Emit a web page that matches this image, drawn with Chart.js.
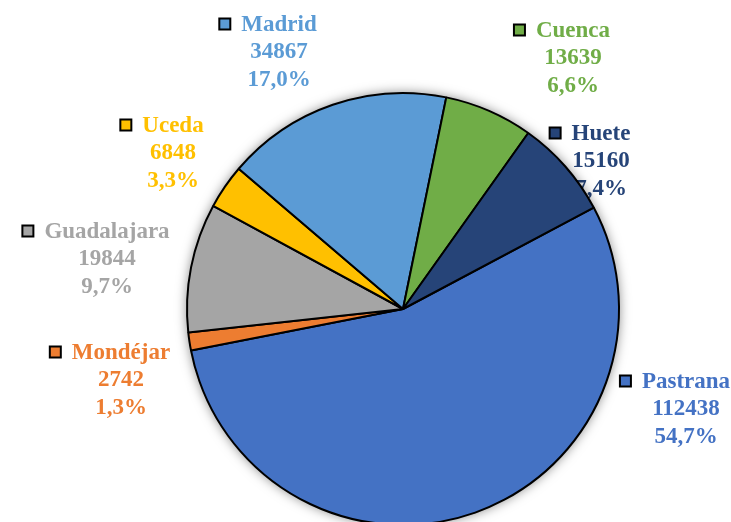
<!DOCTYPE html>
<html>
<head>
<meta charset="utf-8">
<script src="https://cdn.jsdelivr.net/npm/chart.js@4.4.1/dist/chart.umd.min.js"></script>
<style>
html,body{margin:0;padding:0;background:#fff;overflow:hidden;width:731px;height:522px;}
canvas{display:block;}
</style>
</head>
<body>
<canvas id="c" width="731" height="618"></canvas>
<script>
// ---- data ----
const categories = ['Pastrana', 'Mondéjar', 'Guadalajara', 'Uceda', 'Madrid', 'Cuenca', 'Huete'];
const values = [112438, 2742, 19844, 6848, 34867, 13639, 15160];
const colors = ['#4472C4', '#ED7D31', '#A5A5A5', '#FFC000', '#5B9BD5', '#70AD47', '#264478'];
// label block anchor offsets from pie centre (layout only)
const labelOffsets = [[283, 72], [-282, 43], [-296, -78], [-230, -184], [-124, -285], [170, -279], [198, -176]];

const total = values.reduce((a, b) => a + b, 0);
const pct = v => (v / total * 100).toFixed(1).replace('.', ',') + '%';

const labelPlugin = {
  id: 'outerLabels',
  beforeDatasetsDraw(chart) {
    const ctx = chart.ctx;
    const arc0 = chart.getDatasetMeta(0).data[0];
    const cx = arc0.x, cy = arc0.y, r = arc0.outerRadius;
    ctx.save();
    // labels (drawn beneath the pie)
    ctx.font = "bold 23px 'Liberation Serif', 'Times New Roman', serif";
    ctx.textAlign = 'center';
    ctx.textBaseline = 'middle';
    const lh = 27.5;
    categories.forEach((name, i) => {
      const x = cx + labelOffsets[i][0];
      const y = cy + labelOffsets[i][1];
      ctx.fillStyle = colors[i];
      ctx.fillText(name, x, y + 1);
      ctx.fillText(String(values[i]), x, y + 1 + lh);
      ctx.fillText(pct(values[i]), x, y + 1 + 2 * lh);
      const w = ctx.measureText(name).width;
      const s = 11;
      const mx = x - w / 2 - 11 - s;
      ctx.fillStyle = colors[i];
      ctx.fillRect(mx, y - s / 2, s, s);
      ctx.lineWidth = 2;
      ctx.strokeStyle = '#000';
      ctx.strokeRect(mx, y - s / 2, s, s);
    });
    // soft shadow behind the pie
    ctx.shadowColor = 'rgba(0,0,0,0.5)';
    ctx.shadowBlur = 12;
    ctx.beginPath();
    ctx.arc(cx, cy, r, 0, Math.PI * 2);
    ctx.fillStyle = '#fff';
    ctx.fill();
    ctx.restore();
  }
};

new Chart(document.getElementById('c'), {
  type: 'pie',
  data: {
    labels: categories,
    datasets: [{
      data: values,
      backgroundColor: colors,
      borderColor: '#000',
      borderWidth: 2,
      borderAlign: 'center',
      hoverOffset: 0,
      radius: 216
    }]
  },
  options: {
    responsive: false,
    devicePixelRatio: 1,
    animation: false,
    rotation: 62,
    layout: { padding: { left: 75, right: 0, top: 0, bottom: 0 } },
    plugins: {
      legend: { display: false },
      tooltip: { enabled: false }
    },
    events: []
  },
  plugins: [labelPlugin]
});
</script>
</body>
</html>
